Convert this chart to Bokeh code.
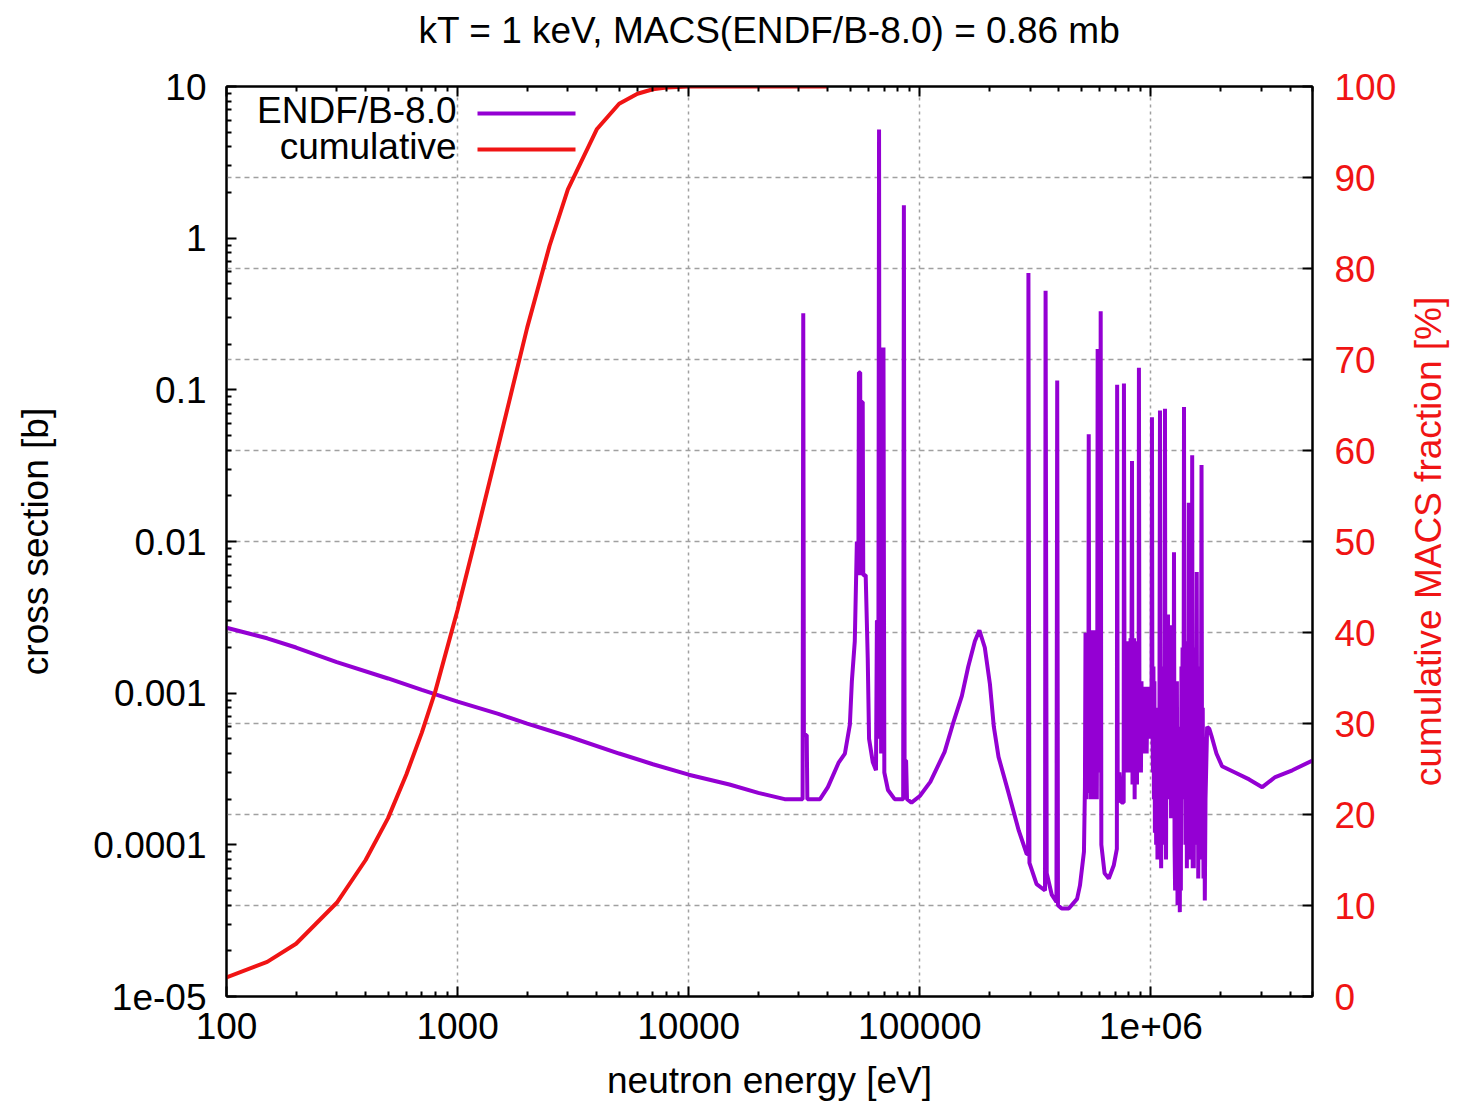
import math
from bokeh.plotting import figure
from bokeh.models import (Range1d, LinearAxis, LogAxis, FixedTicker, Grid, Label,
                          BoxAnnotation, CustomJSTickFormatter, LinearScale)
from bokeh.embed import file_html
from bokeh.resources import INLINE

# ---------------- data ----------------
title_text = "kT = 1 keV, MACS(ENDF/B-8.0) = 0.86 mb"
series_names = ["ENDF/B-8.0", "cumulative"]

energy_xs = [100, 150, 200, 300, 500, 700, 1000, 1500, 2000, 3000, 5000, 7000, 10000, 15000, 20000,
             26000, 31100, 31300, 31500, 32400, 32600, 37000, 40000, 44600, 47400, 49800, 50800,
             52300, 53400, 54200, 54500, 55200, 55400, 55700, 56600, 56900, 58300, 59500, 60300,
             62600, 64600, 65200, 66200, 66600, 67000, 67500, 68000, 68500, 69000, 69600, 70200,
             72800, 77800, 84700, 85300, 85900, 87200, 88000, 92000, 100000, 111000, 128000,
             140000, 152000, 162000, 173000, 181000, 191000, 201000, 209000, 219000, 242000,
             268000, 290000, 294000, 295000, 298000, 320000, 348000, 350000, 354000, 372000,
             390000, 393000, 396000, 411000, 441000, 479000, 493000, 513000,
             518000, 521000, 524000, 527000, 530000, 533000, 536000, 538000, 541000, 544000,
             547000, 550000, 553000, 556000, 559000, 562000, 565000, 568000, 571000, 574000,
             577000, 580000, 583000, 586000, 588000, 591000, 594000, 597000, 600000, 603000,
             606000, 610000, 630000, 657000, 690000, 712000, 714000, 718000, 730000, 745000,
             762000, 764000, 768000, 772000, 776000, 780000, 784000, 788000, 792000, 796000,
             800000, 804000, 808000, 812000, 816000, 820000, 824000, 828000, 832000, 836000,
             840000, 845000, 850000, 855000, 860000, 865000, 870000, 875000, 880000, 885000,
             887000, 891000, 895000, 900000, 905000, 910000, 915000, 920000, 928000, 935000,
             942000, 950000, 958000, 966000, 974000, 982000, 990000, 998000, 1005000, 1010000,
             1015000, 1020000, 1025000, 1030000, 1035000, 1040000, 1047000, 1053000, 1060000,
             1067000, 1074000, 1080000, 1087000, 1094000, 1100000, 1107000, 1115000, 1122000,
             1130000, 1138000, 1145000, 1150000, 1155000, 1162000, 1170000, 1177000, 1185000,
             1192000, 1200000, 1207000, 1215000, 1222000, 1230000, 1238000, 1245000, 1252000,
             1258000, 1265000, 1272000, 1280000, 1288000, 1295000, 1303000, 1310000, 1318000,
             1325000, 1333000, 1340000, 1347000, 1355000, 1362000, 1370000, 1378000, 1385000,
             1390000, 1396000, 1402000, 1410000, 1420000, 1430000, 1440000, 1450000, 1458000,
             1466000, 1474000, 1482000, 1490000, 1500000, 1508000, 1516000, 1524000, 1532000,
             1540000, 1550000, 1560000, 1570000, 1578000, 1586000, 1594000, 1602000, 1612000,
             1622000, 1632000, 1642000, 1655000, 1665000, 1675000, 1688000, 1700000, 1710000,
             1722000, 1750000, 1790000, 1830000,
             1920000, 2030000, 2310000, 2660000, 3030000, 3450000, 4090000, 5000000]
sigma_b = [0.0027, 0.0023, 0.002, 0.0016, 0.00125, 0.00105, 0.00088, 0.00073, 0.00063, 0.00052,
           0.0004, 0.00034, 0.00029, 0.00025, 0.00022,
           0.0002, 0.0002, 0.32, 0.00053, 0.00053, 0.0002, 0.0002, 0.00024, 0.00035, 0.0004,
           0.00062, 0.0012,
           0.0022, 0.01, 0.006, 0.13, 0.13, 0.006, 0.083, 0.083, 0.006, 0.006, 0.0017, 0.0005,
           0.00035, 0.00031, 0.003, 0.003, 5.2, 0.0005, 0.19, 0.0004, 0.19, 0.0004, 0.19, 0.0003,
           0.00023, 0.0002, 0.0002, 1.65, 0.00036, 0.00036, 0.0002, 0.00019, 0.00021, 0.00026,
           0.00041,
           0.00065, 0.00096, 0.0015, 0.0022, 0.0026, 0.002, 0.00115, 0.0006, 0.00038, 0.00022,
           0.000124, 0.000087, 0.000087, 0.59, 0.000076, 0.000055, 0.00005, 0.45, 0.000065,
           0.000047,
           0.000042, 0.115, 0.00004, 0.000038, 0.000038, 0.000044, 0.000054, 0.00009,
           0.00024, 0.0025, 0.0002, 0.0025, 0.00022, 0.0024, 0.0003, 0.051, 0.0004, 0.0025,
           0.0002, 0.0026, 0.00025, 0.0026, 0.0002, 0.0025, 0.00022, 0.0026, 0.0002, 0.0025,
           0.00025, 0.0025, 0.0002, 0.0024, 0.186, 0.0004, 0.0025, 0.0003, 0.0025, 0.0004,
           0.33, 0.0001, 0.000065, 0.00006, 0.000073, 0.000094, 0.108, 0.00019, 0.0003, 0.00019,
           0.00019, 0.11, 0.002, 0.0003, 0.0022, 0.0004, 0.0021, 0.0003, 0.002, 0.0005,
           0.0022, 0.0004, 0.0021, 0.0006, 0.0023, 0.0003, 0.0023, 0.034, 0.00025, 0.0015,
           0.0003, 0.0023, 0.0002, 0.0016, 0.0003, 0.0022, 0.00025, 0.0012, 0.0004, 0.0015,
           0.14, 0.0012, 0.0004, 0.0011, 0.0003, 0.0012, 0.00045, 0.0011, 0.0004, 0.0011,
           0.0005, 0.001, 0.0004, 0.0011, 0.0005, 0.0011, 0.0005, 0.0009, 0.0005, 0.066,
           0.0006, 0.0003, 0.0015, 0.0002, 0.0012, 0.00012, 0.0008, 0.0001, 0.0006,
           0.00008, 0.0004, 0.00008, 0.0003, 0.073, 0.0002, 0.00007, 0.0012, 0.0001,
           0.0015, 0.0002, 0.0015, 0.075, 0.0003, 0.00008, 0.0025, 0.0002, 0.0033,
           0.0004, 0.0025, 0.0002, 0.0028, 0.00015, 0.0025, 0.0002, 0.002, 0.00015,
           0.0085, 0.0001, 0.00005, 0.0008, 0.00006, 0.0012, 0.00004, 0.0006, 0.00004,
           0.0004, 0.000036, 0.0003, 0.00005, 0.0015, 0.0003, 0.002, 0.0002, 0.0015,
           0.077, 0.0003, 0.0022, 0.0001, 0.0022, 0.00007, 0.0012, 0.0001, 0.018,
           0.00015, 0.0015, 0.00008, 0.0012, 0.0001, 0.037, 0.00007, 0.0015, 0.00007,
           0.002, 0.0001, 0.0015, 0.0004, 0.0063, 0.0001, 0.0015, 0.00006, 0.0015,
           0.0001, 0.0012, 0.00008, 0.032, 0.0001, 0.0008, 0.00006, 0.0005, 0.000043,
           0.0002, 0.0006, 0.00058, 0.00052,
           0.0004, 0.00033, 0.0003, 0.00027, 0.00024, 0.00028, 0.00031, 0.00036]

energy_cum = [100, 150, 200, 300, 400, 500, 600, 700, 800, 1000, 1200, 1500, 2000, 2500, 3000,
              4000, 5000, 6000, 7000, 8000, 10000, 20000, 40000]
cum_pct = [2.1, 3.8, 5.8, 10.3, 15.0, 19.6, 24.4, 29.0, 33.5, 42.5, 50.5, 60.5, 73.5, 82.5, 88.7,
           95.3, 98.1, 99.2, 99.7, 99.9, 100, 100, 100]

x_tick_labels = ["100", "1000", "10000", "100000", "1e+06"]
y_tick_labels = ["1e-05", "0.0001", "0.001", "0.01", "0.1", "1", "10"]
y2_tick_labels = ["0", "10", "20", "30", "40", "50", "60", "70", "80", "90", "100"]

x_label = "neutron energy [eV]"
y_label = "cross section [b]"
y2_label = "cumulative MACS fraction [%]"

# ---------------- style ----------------
PURPLE = "#9400D3"
RED = "#F01414"
FONT = "Liberation Sans"
FS = "37px"
GRID_COLOR = "#a0a0a0"

X0, X1 = 100, 5.0e6
FRAME_W = 1086

x_major = [10.0 ** (2 + i) for i in range(len(x_tick_labels))]
x_minor = [m * 10.0 ** k for k in range(2, 7) for m in range(2, 10) if m * 10.0 ** k < 5.0e6 + 1]
y_major = [10.0 ** (-5 + i) for i in range(len(y_tick_labels))]
y_minor = [m * 10.0 ** k for k in range(-5, 1) for m in range(2, 10)]
y2_major = [float(s) for s in y2_tick_labels]

p = figure(width=1461, height=1111, x_axis_type="log", y_axis_type="log",
           x_range=Range1d(X0, X1), y_range=Range1d(1e-5, 10),
           output_backend="svg", toolbar_location=None,
           min_border_left=226, min_border_right=149, min_border_top=86, min_border_bottom=115)
p.extra_y_ranges = {"pct": Range1d(0, 100)}
p.extra_y_scales = {"pct": LinearScale()}
p.background_fill_color = "white"
p.border_fill_color = "white"
p.outline_line_color = "black"
p.outline_line_width = 2
p.xgrid.visible = False
p.ygrid.visible = False

xt = FixedTicker(ticks=x_major, minor_ticks=x_minor)
yt = FixedTicker(ticks=y_major, minor_ticks=y_minor)
y2t = FixedTicker(ticks=y2_major, minor_ticks=[])

JS = "const i = Math.round(Math.log10(tick)) - start; return (i >= 0 && i < labels.length) ? labels[i] : '';"
xfmt = CustomJSTickFormatter(args=dict(labels=x_tick_labels, start=2), code=JS)
yfmt = CustomJSTickFormatter(args=dict(labels=y_tick_labels, start=-5), code=JS)
emptyfmt = CustomJSTickFormatter(code="return '';")


def style_axis(ax, color="black"):
    ax.axis_line_color = "black"
    ax.axis_line_width = 2
    ax.major_tick_line_color = "black"
    ax.minor_tick_line_color = "black"
    ax.major_tick_line_width = 2
    ax.minor_tick_line_width = 2
    ax.major_tick_in = 10
    ax.major_tick_out = 0
    ax.minor_tick_in = 5
    ax.minor_tick_out = 0
    ax.major_label_text_font = FONT
    ax.major_label_text_font_size = FS
    ax.major_label_text_color = color
    ax.axis_label_text_font = FONT
    ax.axis_label_text_font_size = FS
    ax.axis_label_text_font_style = "normal"
    ax.axis_label_text_color = color


xa = p.xaxis[0]
xa.ticker = xt
xa.formatter = xfmt
xa.axis_label = x_label
style_axis(xa)
xa.major_label_standoff = 16
xa.axis_label_standoff = 18

ya = p.yaxis[0]
ya.ticker = yt
ya.formatter = yfmt
ya.axis_label = y_label
style_axis(ya)
ya.major_label_standoff = 20
ya.axis_label_standoff = 34

# top axis: mirrored ticks, carries the chart title as its label
top = LogAxis(ticker=xt, formatter=emptyfmt)
style_axis(top)
top.major_label_standoff = 0
top.axis_label = title_text
top.axis_label_standoff = 36
p.add_layout(top, "above")

ra = LinearAxis(y_range_name="pct", ticker=y2t)
style_axis(ra, RED)
ra.major_label_standoff = 22
ra.minor_tick_in = 0
p.add_layout(ra, "right")

# right-hand axis title, reading bottom-to-top, placed 116 px right of the frame
x_lab = 10 ** (math.log10(X1) + 116 * (math.log10(X1) - math.log10(X0)) / FRAME_W)
p.add_layout(Label(x=x_lab, y=50, y_range_name="pct", text=y2_label, angle=math.pi / 2,
                   text_align="center", text_baseline="middle", text_font=FONT,
                   text_font_size=FS, text_color=RED), "right")

vgrid = Grid(dimension=0, ticker=xt, grid_line_color=GRID_COLOR, grid_line_width=1.5,
             grid_line_dash="3 4")
hgrid = Grid(dimension=1, ticker=y2t, y_range_name="pct", grid_line_color=GRID_COLOR,
             grid_line_width=1.5, grid_line_dash="5 4")
p.add_layout(vgrid)
p.add_layout(hgrid)

p.line(energy_xs, sigma_b, line_color=PURPLE, line_width=4)
p.line(energy_cum, cum_pct, line_color=RED, line_width=4, y_range_name="pct")

# gnuplot-style key: text then line sample (screen units relative to frame bottom-left)
for i, (name, col) in enumerate(zip(series_names, [PURPLE, RED])):
    ybase = 886 - 36 * i
    p.add_layout(Label(x=230, y=ybase, x_units="screen", y_units="screen", text=name,
                       text_align="right", text_baseline="alphabetic", text_font=FONT,
                       text_font_size=FS, text_color="black"))
    yl = 883 - 36 * i
    p.add_layout(BoxAnnotation(left=251, right=349, bottom=yl - 2, top=yl + 2,
                               left_units="screen", right_units="screen",
                               bottom_units="screen", top_units="screen",
                               fill_color=col, fill_alpha=1.0, line_color=None))

open("out.html", "w").write(file_html(p, INLINE))
